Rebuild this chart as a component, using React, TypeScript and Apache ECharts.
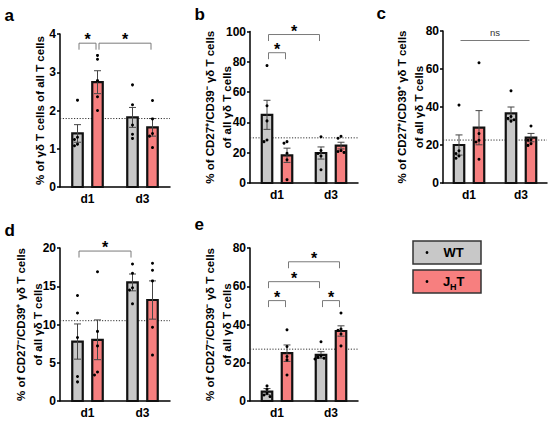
import React, { useEffect, useRef } from "react";
import * as echarts from "echarts";

// ---------- data ----------
const categories = ["d1", "d3"];
const groupNames = ["WT", "JHT"];

// Panel a
const aWtMean = [1.4, 1.82];
const aWtSem = [0.23, 0.26];
const aJhtMean = [2.74, 1.56];
const aJhtSem = [0.3, 0.23];
const aWtPoints = [[2.27, 1.3, 1.24, 1.12, 1.08], [2.67, 2.15, 1.62, 1.38, 1.27]];
const aJhtPoints = [[3.44, 3.34, 2.78, 2.36, 2.0], [2.26, 1.78, 1.4, 1.33, 1.03]];
const aRef = 1.79;
const aBrackets = [[0, 0, 0, 1, 3.76, 1], [0, 1, 1, 1, 3.76, 1]];
const aBracketLabels = ["*", "*"];

// Panel b
const bWtMean = [45.0, 19.8];
const bWtSem = [9.6, 4.0];
const bJhtMean = [18.3, 24.7];
const bJhtSem = [4.7, 2.2];
const bWtPoints = [[77.5, 51, 41, 28.4, 27.3], [30.5, 21.5, 19.5, 17.8, 8.7]];
const bJhtPoints = [[27.3, 26.3, 19.6, 15.3, 2.2], [30.8, 29.5, 21.4, 20.8, 20.2]];
const bRef = 29.8;
const bBrackets = [[0, 0, 1, 0, 98, 1], [0, 0, 0, 1, 86, 1]];
const bBracketLabels = ["*", "*"];

// Panel c
const cWtMean = [20.0, 36.6];
const cWtSem = [5.3, 3.4];
const cJhtMean = [29.1, 23.9];
const cJhtSem = [9.0, 2.2];
const cWtPoints = [[41, 17, 15.5, 14.2, 13.0], [48.5, 35.0, 34.0, 33.3, 32.5]];
const cJhtPoints = [[63.3, 26, 22.5, 21.6, 12.5], [30, 22.8, 22.5, 20.7, 19.8]];
const cRef = 22.6;
const cBrackets = [[0, 0, 1, 1, 75, 0]];
const cBracketLabels = ["ns"];

// Panel d
const dWtMean = [7.77, 15.5];
const dWtSem = [2.3, 1.1];
const dJhtMean = [8.0, 13.2];
const dJhtSem = [2.6, 2.5];
const dWtPoints = [[13.8, 11.5, 8.3, 3.2, 2.5], [17.9, 16.7, 14.8, 14.5, 12.7]];
const dJhtPoints = [[16.9, 9.1, 7.2, 3.8, 3.4], [18.0, 17.1, 15.7, 9.65, 6.0]];
const dRef = 10.5;
const dBrackets = [[0, 0, 1, 0, 19.6, 1]];
const dBracketLabels = ["*"];

// Panel e
const eWtMean = [4.9, 24.1];
const eWtSem = [1.6, 1.7];
const eJhtMean = [25.0, 36.6];
const eJhtSem = [4.3, 2.7];
const eWtPoints = [[7.9, 6.1, 4.0, 3.1, 2.3], [31.0, 23.6, 22.8, 22.4, 22.0]];
const eJhtPoints = [[37.2, 28.5, 23.3, 21.5, 13.6], [46.0, 37.6, 37.0, 35.0, 28.8]];
const eRef = 27.1;
const eBrackets = [
  [0, 1, 1, 1, 72.8, 1],
  [0, 0, 1, 0, 62.4, 1],
  [0, 0, 0, 1, 52.5, 1],
  [1, 0, 1, 1, 52.5, 1],
];
const eBracketLabels = ["*", "*", "*", "*"];

// ---------- styling / layout ----------
const FONT = "'Liberation Sans', Arial, Helvetica, sans-serif";
const COLORS = ["#c8c8c8", "#f77f7f"];
const OFFSET = 10; // px from category centre to each bar centre
const BW = 10.5; // bar inner width
const CAP = 3.5;
const DROP = 6.5;

const panels = [
  {
    letter: "a", lx: 4.5, ly: 15, title: "% of γδ T cells of all T cells",
    yMax: 4, yInterval: 1, nameGap: 12,
    grid: { left: 60, top: 34, width: 110, height: 153 },
    wtMean: aWtMean, wtSem: aWtSem, jhtMean: aJhtMean, jhtSem: aJhtSem,
    wtPoints: aWtPoints, jhtPoints: aJhtPoints, ref: aRef, brackets: aBrackets, labels: aBracketLabels,
  },
  {
    letter: "b", lx: 194.5, ly: 14, title: "% of CD27⁺/CD39⁻ γδ T cells\nof all γδ T cells",
    yMax: 100, yInterval: 20, nameGap: 14.5,
    grid: { left: 250, top: 31.5, width: 108, height: 151.5 },
    wtMean: bWtMean, wtSem: bWtSem, jhtMean: bJhtMean, jhtSem: bJhtSem,
    wtPoints: bWtPoints, jhtPoints: bJhtPoints, ref: bRef, brackets: bBrackets, labels: bBracketLabels,
  },
  {
    letter: "c", lx: 376.5, ly: 13, title: "% of CD27⁺/CD39⁺ γδ T cells\nof all γδ T cells",
    yMax: 80, yInterval: 20, nameGap: 16,
    grid: { left: 443, top: 31, width: 104, height: 152 },
    wtMean: cWtMean, wtSem: cWtSem, jhtMean: cJhtMean, jhtSem: cJhtSem,
    wtPoints: cWtPoints, jhtPoints: cJhtPoints, ref: cRef, brackets: cBrackets, labels: cBracketLabels,
  },
  {
    letter: "d", lx: 4.5, ly: 230, title: "% of CD27⁻/CD39⁺ γδ T cells\nof all γδ T cells",
    yMax: 20, yInterval: 5, nameGap: 14,
    grid: { left: 60, top: 248, width: 110, height: 153 },
    wtMean: dWtMean, wtSem: dWtSem, jhtMean: dJhtMean, jhtSem: dJhtSem,
    wtPoints: dWtPoints, jhtPoints: dJhtPoints, ref: dRef, brackets: dBrackets, labels: dBracketLabels,
  },
  {
    letter: "e", lx: 194.5, ly: 224, title: "% of CD27⁻/CD39⁻ γδ T cells\nof all γδ T cells",
    yMax: 80, yInterval: 20, nameGap: 15,
    grid: { left: 250, top: 248, width: 108, height: 153 },
    wtMean: eWtMean, wtSem: eWtSem, jhtMean: eJhtMean, jhtSem: eJhtSem,
    wtPoints: eWtPoints, jhtPoints: eJhtPoints, ref: eRef, brackets: eBrackets, labels: eBracketLabels,
  },
];

function assignSlots(values: number[], threshold: number): number[] {
  const order = [0, -1, 1, -2, 2, -3, 3];
  const slots: number[] = [];
  values.forEach((v, i) => {
    const used = new Set<number>();
    for (let j = 0; j < i; j++) if (Math.abs(values[j] - v) < threshold) used.add(slots[j]);
    const s = order.find((o) => !used.has(o));
    slots.push(s === undefined ? 0 : s);
  });
  return slots;
}

function buildOption() {
  const grid: any[] = [];
  const xAxis: any[] = [];
  const yAxis: any[] = [];
  const series: any[] = [];
  const graphic: any[] = [];

  panels.forEach((p, i) => {
    grid.push({ ...p.grid, containLabel: false });
    xAxis.push({
      type: "category",
      gridIndex: i,
      data: categories,
      boundaryGap: true,
      axisLine: { lineStyle: { color: "#000", width: 1.5 } },
      axisTick: { alignWithLabel: true, length: 3, lineStyle: { color: "#000", width: 1.5 } },
      axisLabel: { color: "#000", fontWeight: "bold", fontSize: 12, margin: 6, fontFamily: FONT },
      splitLine: { show: false },
    });
    yAxis.push({
      type: "value",
      gridIndex: i,
      min: 0,
      max: p.yMax,
      interval: p.yInterval,
      name: p.title,
      nameLocation: "middle",
      nameRotate: 90,
      nameGap: p.nameGap,
      nameMoveOverlap: false,
      nameTextStyle: { color: "#000", fontWeight: "bold", fontSize: 11.5, lineHeight: 17, fontFamily: FONT },
      axisLine: { show: true, lineStyle: { color: "#000", width: 1.5 } },
      axisTick: { show: true, length: 3, lineStyle: { color: "#000", width: 1.5 } },
      axisLabel: { color: "#000", fontWeight: "bold", fontSize: 12, margin: 4, fontFamily: FONT },
      splitLine: { show: false },
    });

    // dotted reference line (behind bars)
    series.push({
      type: "custom",
      name: "ref" + i,
      xAxisIndex: i,
      yAxisIndex: i,
      silent: true,
      z: 1,
      data: [[0, p.ref]],
      renderItem: (params: any, api: any) => {
        const y = api.coord([0, api.value(1)])[1];
        const cs = params.coordSys;
        return {
          type: "line",
          shape: { x1: cs.x, y1: y, x2: cs.x + cs.width, y2: y },
          style: { stroke: "#333", lineWidth: 1, lineDash: [1.2, 1.6] },
        };
      },
    });

    const means = [p.wtMean, p.jhtMean];
    const sems = [p.wtSem, p.jhtSem];
    const pts = [p.wtPoints, p.jhtPoints];

    [0, 1].forEach((g) => {
      series.push({
        type: "custom",
        name: groupNames[g],
        xAxisIndex: i,
        yAxisIndex: i,
        silent: true,
        z: 2,
        data: categories.map((_, c) => [c, means[g][c], sems[g][c]]),
        renderItem: (params: any, api: any) => {
          const c = api.value(0);
          const m = api.value(1);
          const s = api.value(2);
          const base = api.coord([c, 0]);
          const cx = base[0] + (g === 0 ? -OFFSET : OFFSET);
          const y0 = base[1];
          const yTop = api.coord([c, m])[1];
          const yHi = api.coord([c, m + s])[1];
          const yLo = api.coord([c, m - s])[1];
          const es = { stroke: "#454545", lineWidth: 1 };
          return {
            type: "group",
            children: [
              {
                type: "rect",
                shape: { x: cx - BW / 2, y: yTop, width: BW, height: y0 - yTop },
                style: { fill: COLORS[g], stroke: "#111", lineWidth: 2.2 },
              },
              { type: "line", shape: { x1: cx, y1: yHi, x2: cx, y2: yLo }, style: es },
              { type: "line", shape: { x1: cx - CAP, y1: yHi, x2: cx + CAP, y2: yHi }, style: es },
              { type: "line", shape: { x1: cx - CAP, y1: yLo, x2: cx + CAP, y2: yLo }, style: es },
            ],
          };
        },
      });
    });

    [0, 1].forEach((g) => {
      const data: number[][] = [];
      pts[g].forEach((vals, c) => {
        const slots = assignSlots(vals, p.yMax * 0.022);
        vals.forEach((v, k) => data.push([c, v, slots[k]]));
      });
      series.push({
        type: "custom",
        name: groupNames[g] + " points",
        xAxisIndex: i,
        yAxisIndex: i,
        silent: true,
        z: 3,
        data,
        renderItem: (params: any, api: any) => {
          const c = api.value(0);
          const v = api.value(1);
          const slot = api.value(2);
          const pt = api.coord([c, v]);
          return {
            type: "circle",
            shape: { cx: pt[0] + (g === 0 ? -OFFSET : OFFSET) + slot * 3, cy: pt[1], r: 1.5 },
            style: { fill: "#000" },
          };
        },
      });
    });

    series.push({
      type: "custom",
      name: "brackets" + i,
      xAxisIndex: i,
      yAxisIndex: i,
      silent: true,
      z: 4,
      data: p.brackets,
      renderItem: (params: any, api: any) => {
        const c1 = api.value(0), g1 = api.value(1), c2 = api.value(2), g2 = api.value(3);
        const yv = api.value(4), drop = api.value(5);
        const x1 = api.coord([c1, 0])[0] + (g1 ? OFFSET : -OFFSET) + 1.5;
        const x2 = api.coord([c2, 0])[0] + (g2 ? OFFSET : -OFFSET) - 1.5;
        const y = api.coord([c1, yv])[1];
        const points = drop
          ? [[x1, y + DROP], [x1, y], [x2, y], [x2, y + DROP]]
          : [[x1, y], [x2, y]];
        const label = p.labels[params.dataIndex];
        const isStar = label === "*";
        return {
          type: "group",
          children: [
            { type: "polyline", shape: { points }, style: { stroke: "#7a7a7a", lineWidth: 1, fill: "none" } },
            {
              type: "text",
              x: (x1 + x2) / 2,
              y: isStar ? y - 3.5 : y - 8,
              style: {
                text: label,
                align: "center",
                verticalAlign: "middle",
                fill: isStar ? "#000" : "#333",
                font: isStar ? `bold 16px ${FONT}` : `9.5px ${FONT}`,
              },
            },
          ],
        };
      },
    });

    graphic.push({
      type: "text",
      x: p.lx,
      y: p.ly,
      style: {
        text: p.letter,
        fill: "#000",
        font: `bold 17px ${FONT}`,
        align: "left",
        verticalAlign: "middle",
      },
    });
  });

  // legend
  const legendItems = [
    { y: 241, color: COLORS[0] },
    { y: 270, color: COLORS[1] },
  ];
  legendItems.forEach((it) => {
    graphic.push({
      type: "rect",
      shape: { x: 413, y: it.y, width: 68, height: 23 },
      style: { fill: it.color, stroke: "#333", lineWidth: 1.5 },
    });
    graphic.push({
      type: "circle",
      shape: { cx: 427, cy: it.y + 11.5, r: 1.4 },
      style: { fill: "#000" },
    });
  });
  graphic.push({
    type: "text",
    x: 453.5,
    y: 252.8,
    style: { text: groupNames[0], fill: "#000", font: `bold 13px ${FONT}`, align: "center", verticalAlign: "middle" },
  });
  graphic.push({
    type: "text",
    x: 443,
    y: 281,
    style: { text: "J", fill: "#000", font: `bold 13px ${FONT}`, align: "left", verticalAlign: "middle" },
  });
  graphic.push({
    type: "text",
    x: 450,
    y: 286.5,
    style: { text: "H", fill: "#000", font: `bold 9px ${FONT}`, align: "left", verticalAlign: "middle" },
  });
  graphic.push({
    type: "text",
    x: 456.5,
    y: 281,
    style: { text: "T", fill: "#000", font: `bold 13px ${FONT}`, align: "left", verticalAlign: "middle" },
  });

  return {
    animation: false,
    backgroundColor: "#fff",
    textStyle: { fontFamily: FONT },
    grid,
    xAxis,
    yAxis,
    series,
    graphic,
  };
}

export default function App() {
  const ref = useRef<HTMLDivElement>(null);
  useEffect(() => {
    if (!ref.current) return;
    const chart = echarts.init(ref.current, undefined, { renderer: "svg" });
    chart.setOption(buildOption() as any);
    return () => chart.dispose();
  }, []);
  return (
    <div
      ref={ref}
      style={{ position: "absolute", left: 0, top: 0, width: 550, height: 421, background: "#fff" }}
    />
  );
}
